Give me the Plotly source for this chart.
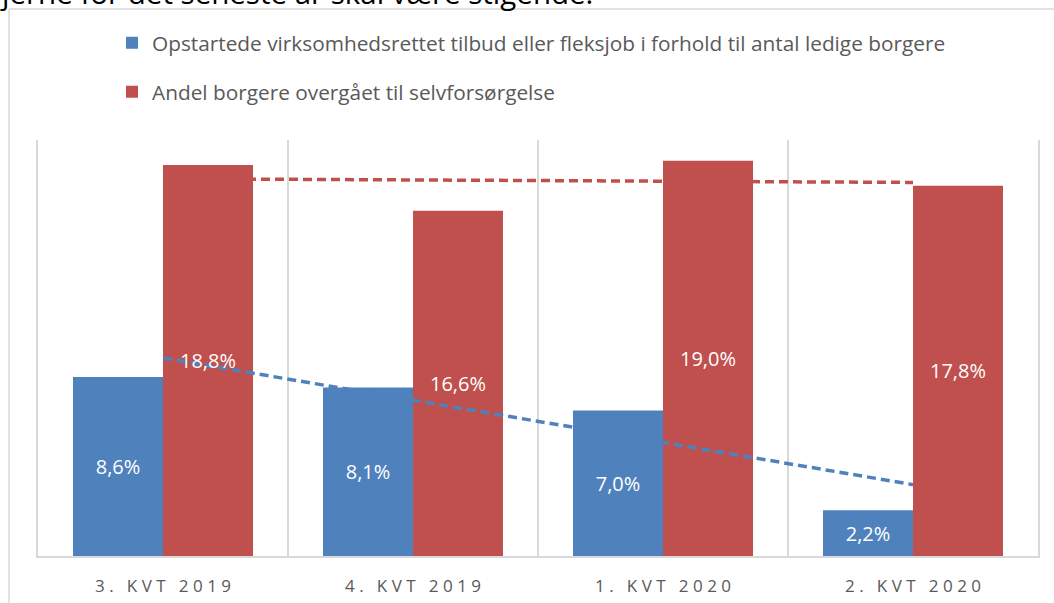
import numpy as np
import plotly.graph_objects as go

categories = ["3. KVT 2019", "4. KVT 2019", "1. KVT 2020", "2. KVT 2020"]
blue_name = "Opstartede virksomhedsrettet tilbud eller fleksjob i forhold til antal ledige borgere"
red_name = "Andel borgere overgået til selvforsørgelse"
blue_values = [8.6, 8.1, 7.0, 2.2]
red_values = [18.8, 16.6, 19.0, 17.8]
top_text = "jerne for det seneste år skal være stigende."

BLUE = "#4F81BD"
RED = "#C0504D"
GRID = "#D9D9D9"
TXT = "#595959"


def spaced(s):
    return "\u00a0".join("\u00a0" if ch == " " else ch for ch in s)


idx = np.arange(len(categories))
bt = np.polyval(np.polyfit(idx, blue_values, 1), idx)
rt = np.polyval(np.polyfit(idx, red_values, 1), idx)

fig = go.Figure()
fig.add_trace(go.Bar(x=categories, y=blue_values, name=blue_name, marker_color=BLUE,
                     marker_line_width=0, legendgroup="a"))
fig.add_trace(go.Bar(x=categories, y=red_values, name=red_name, marker_color=RED,
                     marker_line_width=0, legendgroup="b"))
fig.add_trace(go.Scatter(x=categories, y=bt, mode="lines", showlegend=False,
                         line=dict(color=BLUE, width=3.5, dash="9px,5px")))
fig.add_trace(go.Scatter(x=categories, y=rt, mode="lines", showlegend=False,
                         line=dict(color=RED, width=3.5, dash="9px,5px")))
# text layer on overlay axes so labels sit above the trend lines
for vals in (blue_values, red_values):
    fig.add_trace(go.Bar(x=categories, y=vals, showlegend=False, xaxis="x2", yaxis="y2",
                         marker_color="rgba(0,0,0,0)", marker_line_width=0,
                         texttemplate="%{y:.1f}%", textposition="inside", insidetextanchor="middle",
                         textfont=dict(color="white", size=20, family="Open Sans"), hoverinfo="skip"))

fig.update_layout(
    width=1054, height=603,
    margin=dict(l=38, r=16, t=140, b=47, autoexpand=False),
    paper_bgcolor="white", plot_bgcolor="white",
    separators=",.",
    barmode="group", bargap=0.28, bargroupgap=0,
    font=dict(family="Open Sans", color=TXT),
    legend=dict(x=0.074, y=1.282, xanchor="left", yanchor="top", orientation="v",
                font=dict(size=20.8, color=TXT, family="Open Sans"), tracegroupgap=19,
                itemwidth=30, bgcolor="rgba(0,0,0,0)"),
    xaxis=dict(type="category", range=[-0.5, 3.5], tickson="boundaries", showgrid=True,
               gridcolor=GRID, gridwidth=2, showline=True, linecolor=GRID, linewidth=2,
               ticks="", tickvals=categories, ticktext=[spaced(c) for c in categories],
               ticklabelstandoff=14, automargin=False,
               tickfont=dict(size=17, color=TXT, family="Open Sans"), fixedrange=True),
    yaxis=dict(range=[0, 20], showgrid=False, showticklabels=False, zeroline=False,
               showline=True, mirror=True, linecolor=GRID, linewidth=2, ticks="",
               automargin=False, fixedrange=True),
    xaxis2=dict(type="category", overlaying="x", matches="x", visible=False),
    yaxis2=dict(overlaying="y", matches="y", visible=False),
    shapes=[
        dict(type="line", xref="paper", yref="paper", x0=-0.029, x1=-0.029, y0=1.315, y1=-0.2,
             line=dict(color=GRID, width=1.5)),
        dict(type="line", xref="paper", yref="paper", x0=-0.029, x1=1.1, y0=1.315, y1=1.315,
             line=dict(color=GRID, width=1.5)),
    ],
    annotations=[
        dict(text=top_text, xref="paper", yref="paper", x=-0.040, y=1.300, xanchor="left",
             yanchor="bottom", showarrow=False, font=dict(size=29.5, color="black", family="Open Sans")),
    ],
)

fig.write_html("out.html", config={"displayModeBar": False},
               post_script="document.body.style.margin='0px';")
